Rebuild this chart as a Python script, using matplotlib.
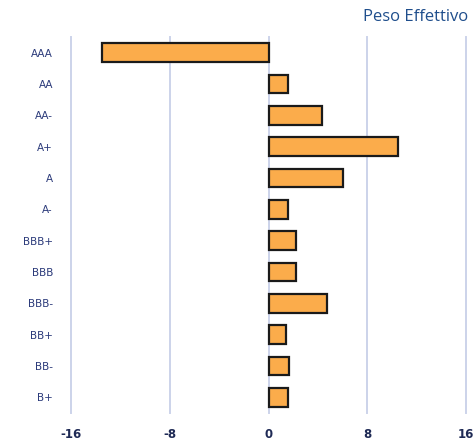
import matplotlib
matplotlib.use("Agg")
import matplotlib.pyplot as plt

# Rating buckets and effective weight
ratings = ["AAA", "AA", "AA-", "A+", "A", "A-", "BBB+", "BBB", "BBB-", "BB+", "BB-", "B+"]
peso = [-13.5, 1.55, 4.35, 10.5, 6.0, 1.55, 2.2, 2.2, 4.7, 1.4, 1.7, 1.55]
x_ticks = [-16, -8, 0, 8, 16]
title = "Peso Effettivo"

W, H = 475, 443
fig = plt.figure(figsize=(W / 100, H / 100), dpi=100)
ax = fig.add_axes([71 / W, 1 - 413 / H, (466 - 71) / W, (413 - 37) / H])

pos = list(range(len(ratings)))
ax.barh(pos, peso, height=0.6, color="#FBAC4B", edgecolor="#1a1a1a", linewidth=1.6, zorder=3)

ax.set_xlim(-16, 16)
ax.set_ylim(len(ratings) - 0.5, -0.5)
for t in x_ticks:
    ax.axvline(t, color="#ccd3ea", linewidth=1.4, zorder=0, clip_on=False)
ax.set_xticks(x_ticks)
ax.set_xticklabels([str(t) for t in x_ticks], fontsize=8.5, fontweight="bold", color="#1f2a55")
ax.set_yticks(pos)
ax.set_yticklabels(ratings, fontsize=7.5, color="#2b3a7a")
ax.tick_params(axis="both", length=0)
ax.tick_params(axis="y", pad=13)
ax.tick_params(axis="x", pad=11)
for s in ax.spines.values():
    s.set_visible(False)

fig.text(363 / W, 1 - 17 / H, title, fontsize=12, family="Open Sans",
         color="#1f4e8c", ha="left", va="center")

fig.savefig("out.png", dpi=100)
